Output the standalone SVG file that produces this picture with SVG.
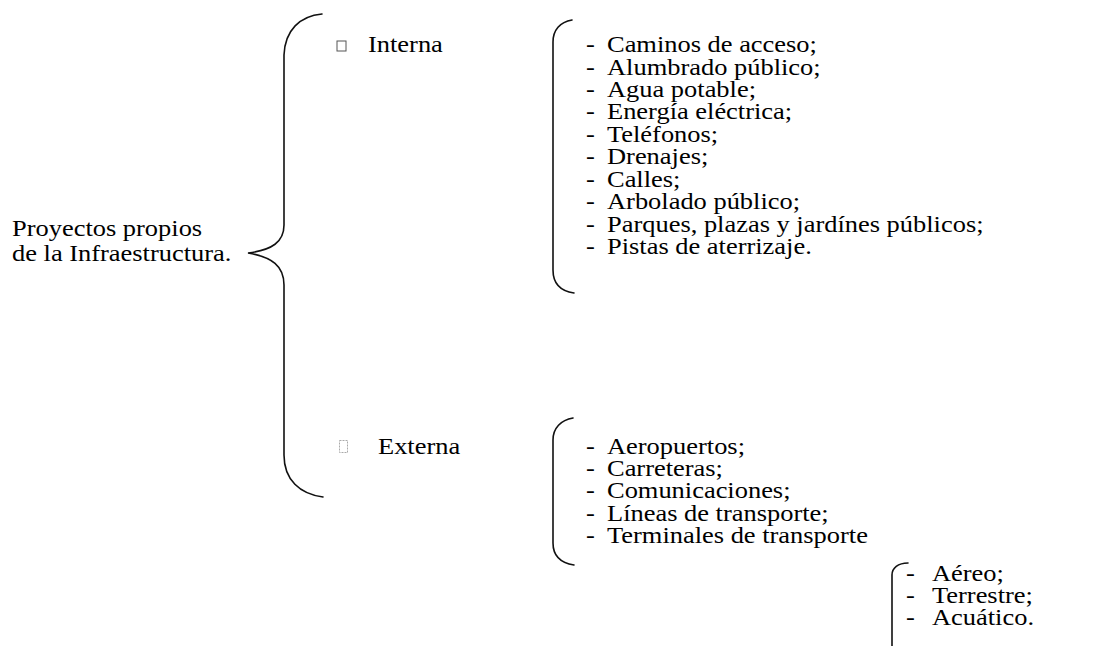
<svg xmlns="http://www.w3.org/2000/svg" width="1094" height="646" viewBox="0 0 1094 646">
<style>
text{font-family:"Liberation Serif","Times New Roman",serif;font-size:23px;fill:#000}
.br{fill:none;stroke:#111;stroke-width:1.6;stroke-linecap:round}
</style>
<rect width="1094" height="646" fill="#fff"/>
<g id="connectors">
<path class="br" d="M322,14 C300,16 285,30 284,55 L284,225 C284,242 272,250 248,253 C272,257 284,266 284,285 L284,455 C284,480 300,494 323,497"/>
<path class="br" d="M572,20 C560,22 553,30 553,42 L553,270 C553,283 560,291 574,293"/>
<path class="br" d="M573,418 C561,420 553,428 553,440 L553,543 C553,556 561,563 574,565"/>
<path class="br" d="M908,563 C898,563 892,568 892,575 L892,646"/>
</g>
<g id="root">
<text transform="matrix(1.15 0 0 1 12 236)">Proyectos propios</text>
<text transform="matrix(1.15 0 0 1 12 261)">de la Infraestructura.</text>
</g>
<g id="interna">
<rect x="337" y="41" width="9" height="10" fill="none" stroke="#555" stroke-width="1"/>
<text transform="matrix(1.15 0 0 1 368 52)">Interna</text>
</g>
<g id="externa">
<rect x="339.5" y="440.5" width="8" height="12" fill="none" stroke="#aaa" stroke-width="1" stroke-dasharray="2,1"/>
<text transform="matrix(1.15 0 0 1 378 454)">Externa</text>
</g>
<g id="lista-interna">
<text transform="matrix(1.15 0 0 1 586 52)">-</text><text transform="matrix(1.15 0 0 1 607 52)">Caminos de acceso;</text>
<text transform="matrix(1.15 0 0 1 586 75)">-</text><text transform="matrix(1.15 0 0 1 607 75)">Alumbrado público;</text>
<text transform="matrix(1.15 0 0 1 586 97)">-</text><text transform="matrix(1.15 0 0 1 607 97)">Agua potable;</text>
<text transform="matrix(1.15 0 0 1 586 119)">-</text><text transform="matrix(1.15 0 0 1 607 119)">Energía eléctrica;</text>
<text transform="matrix(1.15 0 0 1 586 142)">-</text><text transform="matrix(1.15 0 0 1 607 142)">Teléfonos;</text>
<text transform="matrix(1.15 0 0 1 586 164)">-</text><text transform="matrix(1.15 0 0 1 607 164)">Drenajes;</text>
<text transform="matrix(1.15 0 0 1 586 187)">-</text><text transform="matrix(1.15 0 0 1 607 187)">Calles;</text>
<text transform="matrix(1.15 0 0 1 586 209)">-</text><text transform="matrix(1.15 0 0 1 607 209)">Arbolado público;</text>
<text transform="matrix(1.15 0 0 1 586 232)">-</text><text transform="matrix(1.15 0 0 1 607 232)">Parques, plazas y jardínes públicos;</text>
<text transform="matrix(1.15 0 0 1 586 254)">-</text><text transform="matrix(1.15 0 0 1 607 254)">Pistas de aterrizaje.</text>
</g>
<g id="lista-externa">
<text transform="matrix(1.15 0 0 1 586 454)">-</text><text transform="matrix(1.15 0 0 1 607 454)">Aeropuertos;</text>
<text transform="matrix(1.15 0 0 1 586 476)">-</text><text transform="matrix(1.15 0 0 1 607 476)">Carreteras;</text>
<text transform="matrix(1.15 0 0 1 586 498)">-</text><text transform="matrix(1.15 0 0 1 607 498)">Comunicaciones;</text>
<text transform="matrix(1.15 0 0 1 586 521)">-</text><text transform="matrix(1.15 0 0 1 607 521)">Líneas de transporte;</text>
<text transform="matrix(1.15 0 0 1 586 543)">-</text><text transform="matrix(1.15 0 0 1 607 543)">Terminales de transporte</text>
</g>
<g id="lista-terminales">
<text transform="matrix(1.15 0 0 1 906 581)">-</text><text transform="matrix(1.15 0 0 1 932 581)">Aéreo;</text>
<text transform="matrix(1.15 0 0 1 906 603)">-</text><text transform="matrix(1.15 0 0 1 932 603)">Terrestre;</text>
<text transform="matrix(1.15 0 0 1 906 625)">-</text><text transform="matrix(1.15 0 0 1 932 625)">Acuático.</text>
</g>
</svg>
